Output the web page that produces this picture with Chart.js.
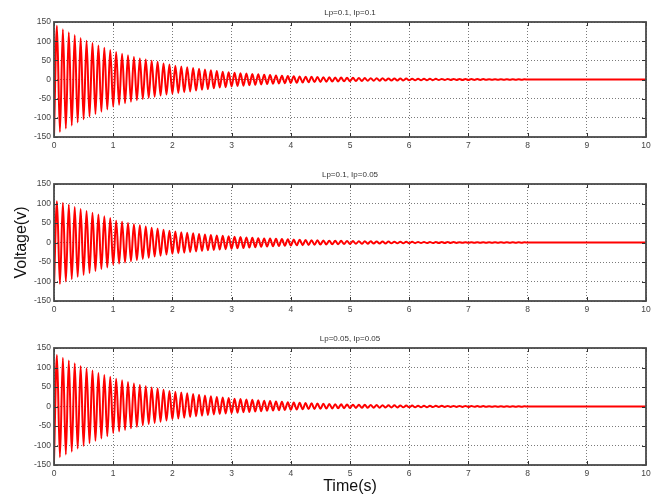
<!DOCTYPE html>
<html>
<head>
<meta charset="utf-8">
<script src="https://cdn.jsdelivr.net/npm/chart.js@4/dist/chart.umd.min.js"></script>
<style>
  html, body { margin: 0; padding: 0; background: #ffffff; width: 667px; height: 498px; overflow: hidden; }
  canvas { position: absolute; left: 0; }
</style>
</head>
<body>
<canvas id="c1" width="667" height="160" style="top:0px"></canvas>
<canvas id="c2" width="667" height="162" style="top:162px"></canvas>
<canvas id="c3" width="667" height="172" style="top:326px"></canvas>
<script>
// ---- data ----
const panelTitles = ['Lp=0.1, Ip=0.1', 'Lp=0.1, Ip=0.05', 'Lp=0.05, Ip=0.05'];
const timeTicks = [0, 1, 2, 3, 4, 5, 6, 7, 8, 9, 10];
const voltTicks = [-150, -100, -50, 0, 50, 100, 150];
const cyclePeriod = 0.1;   // s, one oscillation (~10 Hz)
const tailEnd = 10;        // s

// positive peak per cycle (V), panel 1
const peaks1 = [140,131,123,116,108,101,95,89,83,77,
  72,67,63,59,55,52,49,46,42,39,
  36,34,32,30,28,26,24,22,20,19,
  17.5,16.5,15.5,14.5,13.5,12.5,11.5,10.5,9.8,9.2,
  8.6,8,7.5,7,6.5,6,5.6,5.2,4.9,4.6,
  4.3,4,3.7,3.5,3.3,3.1,2.9,2.7,2.5,2.3,
  2.2,2,1.9,1.8,1.7,1.6,1.5,1.4,1.3,1.2,
  1.1,1,1,0.9,0.8,0.8,0.7,0.7,0.6,0.6];
// negative trough depth per cycle (V), panel 1
const troughs1 = [148,137,128,120,112,104,97,90,84,78,
  71,66,62,58,54,51,48,45,42,39,
  37,35,33,31,29,27,25,23,21,20,
  18,17,16,15,14,13,12,11,10.3,9.6,
  9,8.4,7.8,7.2,6.7,6.2,5.8,5.4,5,4.7,
  4.4,4.1,3.8,3.5,3.3,3.1,2.9,2.7,2.5,2.3,
  2.2,2,1.9,1.8,1.7,1.6,1.5,1.4,1.3,1.2,
  1.1,1,1,0.9,0.8,0.8,0.7,0.7,0.6,0.6];

const peaks2 = [106,102,97,91,86,81,76,72,67,63,
  56,53,50,47,44,41,38,36,33,30,
  28,26.5,25,23.5,22,20.5,19,18,17,16,
  15,14,13,12,11,10.5,10,9.3,8.7,8.1,
  7.5,7,6.5,6,5.6,5.2,4.8,4.5,4.2,3.9,
  3.6,3.3,3.1,2.9,2.7,2.5,2.3,2.1,2,1.8,
  1.7,1.6,1.5,1.4,1.3,1.2,1.1,1,0.95,0.9,
  0.85,0.8,0.75,0.7,0.65,0.6,0.55,0.5,0.5,0.45];
const troughs2 = [115,106,100,94,88,83,78,73,68,64,
  57,54,51,48,45,42,39,36,34,31,
  29,27.5,26,24.5,23,21.5,20,19,18,17,
  16,15,14,13,12,11,10.4,9.7,9.1,8.5,
  7.9,7.3,6.8,6.3,5.8,5.4,5,4.6,4.3,4,
  3.7,3.4,3.2,3,2.8,2.6,2.4,2.2,2,1.9,
  1.8,1.7,1.6,1.5,1.4,1.3,1.2,1.1,1,0.95,
  0.9,0.85,0.8,0.75,0.7,0.65,0.6,0.55,0.5,0.45];

const peaks3 = [132,125,118,111,104,98,92,86,81,76,
  71,67,63,59,55,52,49,46,43,40,
  38,36,34,32,30,28,26,24.5,23,21.5,
  20,19,18,17,16,15,14,13,12,11,
  10.2,9.5,8.8,8.2,7.6,7,6.5,6,5.6,5.2,
  4.8,4.5,4.2,3.9,3.6,3.3,3.1,2.9,2.7,2.5,
  2.3,2.1,2,1.9,1.8,1.7,1.6,1.5,1.4,1.3,
  1.2,1.1,1,0.9,0.9,0.8,0.8,0.7,0.7,0.6];
const troughs3 = [140,130,123,116,108,101,94,88,82,76,
  68,64,60,56,52,48,45,42,39,36,
  33,31,29,27,25,23.5,22,20.5,19,18,
  17,16,15,14,13,12,11,10.3,9.6,9,
  8.4,7.8,7.2,6.7,6.2,5.8,5.4,5,4.6,4.3,
  4,3.7,3.5,3.3,3.1,2.9,2.7,2.5,2.3,2.1,
  2,1.9,1.8,1.7,1.6,1.5,1.4,1.3,1.2,1.1,
  1,0.95,0.9,0.85,0.8,0.75,0.7,0.65,0.6,0.55];

// ---- build point lists (trough at start of each cycle, peak at half cycle) ----
function buildSeries(peaks, troughs) {
  const pts = [];
  for (let k = 0; k < peaks.length; k++) {
    pts.push({ x: +(k * cyclePeriod).toFixed(3), y: -troughs[k] });
    pts.push({ x: +(k * cyclePeriod + cyclePeriod / 2).toFixed(3), y: peaks[k] });
  }
  pts.push({ x: +(peaks.length * cyclePeriod).toFixed(3), y: 0 });
  pts.push({ x: tailEnd, y: 0 });
  return pts;
}

const FONT = '"Liberation Sans", Arial, Helvetica, sans-serif';

const framePlugin = {
  id: 'frame',
  afterDatasetsDraw(chart) {
    const { ctx, chartArea: a, scales: { x, y } } = chart;
    ctx.save();
    ctx.strokeStyle = '#333333';
    ctx.lineWidth = 1;
    ctx.beginPath();
    x.ticks.forEach(t => {
      const px = Math.round(x.getPixelForValue(t.value)) + 0.5;
      ctx.moveTo(px, a.bottom); ctx.lineTo(px, a.bottom - 4);
      ctx.moveTo(px, a.top); ctx.lineTo(px, a.top + 4);
    });
    y.ticks.forEach(t => {
      const py = Math.round(y.getPixelForValue(t.value)) + 0.5;
      ctx.moveTo(a.left, py); ctx.lineTo(a.left + 4, py);
      ctx.moveTo(a.right, py); ctx.lineTo(a.right - 4, py);
    });
    ctx.stroke();
    ctx.lineWidth = 1.8;
    ctx.strokeStyle = '#4a4a4a';
    ctx.strokeRect(a.left, a.top, a.right - a.left, a.bottom - a.top);
    ctx.restore();
  }
};

function makeChart(id, title, points, opts) {
  return new Chart(document.getElementById(id), {
    type: 'line',
    data: {
      datasets: [{
        data: points,
        borderColor: '#ff0000',
        borderWidth: 2,
        pointRadius: 0,
        cubicInterpolationMode: 'monotone',
        fill: false
      }]
    },
    options: {
      responsive: false,
      animation: false,
      devicePixelRatio: 1,
      parsing: false,
      layout: { padding: { left: 0, right: 21, top: 0, bottom: 0 } },
      plugins: {
        legend: { display: false },
        tooltip: { enabled: false },
        title: {
          display: true,
          text: title,
          fullSize: false,
          color: '#333333',
          font: { family: FONT, size: 8, weight: 'normal' },
          padding: { top: 8.2, bottom: 4.2 }
        }
      },
      scales: {
        x: {
          type: 'linear',
          min: 0, max: 10,
          afterBuildTicks: s => { s.ticks = timeTicks.map(v => ({ value: v })); },
          afterFit: s => { s.height = opts.xHeight; },
          ticks: { color: '#444444', font: { family: FONT, size: 8.5 }, padding: 4, maxRotation: 0, autoSkip: false },
          grid: { color: '#7a7a7a', lineWidth: 1, drawTicks: false },
          border: { display: false, dash: [1, 2] },
          title: opts.xTitle ? {
            display: true, text: opts.xTitle, color: '#111111',
            font: { family: FONT, size: 16 }, padding: { top: 0, bottom: 1.5 }
          } : { display: false }
        },
        y: {
          type: 'linear',
          min: -150, max: 150,
          afterBuildTicks: s => { s.ticks = voltTicks.map(v => ({ value: v })); },
          afterFit: s => { s.width = 54; },
          ticks: { color: '#444444', font: { family: FONT, size: 8.5 }, padding: 3 },
          grid: { color: '#7a7a7a', lineWidth: 1, drawTicks: false },
          border: { display: false, dash: [1, 2] },
          title: opts.yTitle ? {
            display: true, text: opts.yTitle, color: '#111111',
            font: { family: FONT, size: 16 }, padding: { top: 12, bottom: 0 }
          } : { display: false }
        }
      }
    },
    plugins: [framePlugin]
  });
}

makeChart('c1', panelTitles[0], buildSeries(peaks1, troughs1), { xHeight: 23 });
makeChart('c2', panelTitles[1], buildSeries(peaks2, troughs2), { xHeight: 23, yTitle: 'Voltage(v)' });
makeChart('c3', panelTitles[2], buildSeries(peaks3, troughs3), { xHeight: 33, xTitle: 'Time(s)' });
</script>
</body>
</html>
